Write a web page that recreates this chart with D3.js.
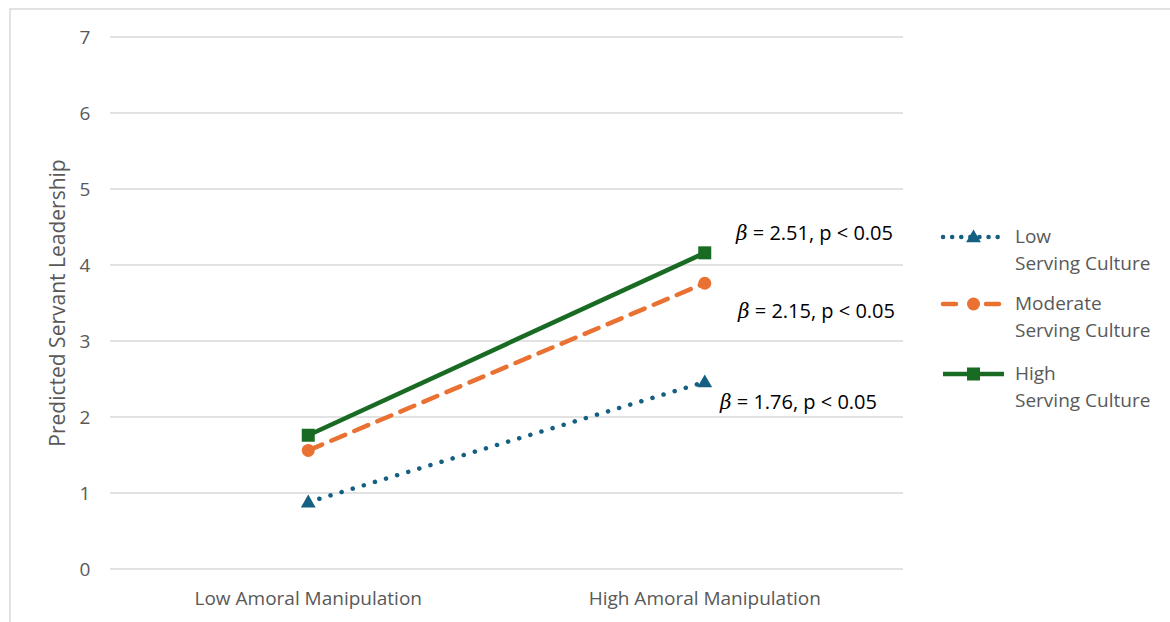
<!DOCTYPE html>
<html><head><meta charset="utf-8">
<script src="https://cdn.jsdelivr.net/npm/d3@7"></script>
<style>
html,body{margin:0;padding:0;background:#fff;}
svg text{font-family:"Open Sans","Noto Sans",sans-serif;}
</style></head>
<body>
<svg id="chart" width="1170" height="622"></svg>
<script>
const categories = ["Low Amoral Manipulation", "High Amoral Manipulation"];
const seriesNames = ["Low\nServing Culture", "Moderate\nServing Culture", "High\nServing Culture"];
const lowCulture = [0.88, 2.46];
const moderateCulture = [1.56, 3.76];
const highCulture = [1.76, 4.16];
const yTicks = [0, 1, 2, 3, 4, 5, 6, 7];
const betaLabels = ["2.51", "2.15", "1.76"];

const svg = d3.select("#chart");
const W = 1170, H = 622;
const plot = {left: 110, right: 903, top: 37, bottom: 569};

// outer frame (left + top visible)
svg.append("path").attr("d", `M10,${H} L10,9 L${W},9`).attr("fill","none").attr("stroke","#d9d9d9").attr("stroke-width",1.5);

const x = d3.scaleBand().domain(categories).range([plot.left, plot.right]);
const y = d3.scaleLinear().domain([0, 7]).range([plot.bottom, plot.top]);

// gridlines
svg.append("g").selectAll("line").data(yTicks).join("line")
  .attr("x1", plot.left).attr("x2", plot.right)
  .attr("y1", d => y(d)).attr("y2", d => y(d))
  .attr("stroke", "#d9d9d9").attr("stroke-width", 1.5);

// y axis labels
const yAxis = d3.axisLeft(y).tickValues(yTicks).tickFormat(d3.format("d")).tickSize(0).tickPadding(0);
const yg = svg.append("g").attr("transform", `translate(92,0)`).call(yAxis);
yg.select(".domain").remove();
yg.selectAll("text").attr("font-size", 19).attr("fill", "#595959").attr("text-anchor","middle").attr("x",-7).attr("dy","0.35em");

// x axis labels
const xAxis = d3.axisBottom(x).tickSize(0).tickPadding(0);
const xg = svg.append("g").attr("transform", `translate(0,${plot.bottom})`).call(xAxis);
xg.select(".domain").remove();
xg.selectAll("text").attr("font-size", 19).attr("fill", "#595959").attr("y", 36).attr("dy", "0");

// y axis title
svg.append("text").attr("transform", `translate(65,${(plot.top+plot.bottom)/2}) rotate(-90)`)
  .attr("text-anchor","middle").attr("font-size",21).attr("fill","#595959")
  .text("Predicted Servant Leadership");

const series = [
  {name: seriesNames[0], values: lowCulture, color: "#156082", dash: "0.1,11.5", width: 4.5, cap: "round", marker: "triangle"},
  {name: seriesNames[1], values: moderateCulture, color: "#E97132", dash: "15,10", width: 4.5, cap: "round", marker: "circle"},
  {name: seriesNames[2], values: highCulture, color: "#196B24", dash: null, width: 4.5, cap: "butt", marker: "square"}
];

const cx = c => x(c) + x.bandwidth()/2;
const line = d3.line().x(d => cx(d.c)).y(d => y(d.v));

function drawMarker(g, type, px, py, color) {
  if (type === "triangle") {
    g.append("path").attr("d", d3.symbol(d3.symbolTriangle, 95)()).attr("transform", `translate(${px},${py+1})`).attr("fill", color);
  } else if (type === "circle") {
    g.append("circle").attr("cx", px).attr("cy", py).attr("r", 6.5).attr("fill", color);
  } else {
    g.append("rect").attr("x", px-6.5).attr("y", py-6.5).attr("width", 13).attr("height", 13).attr("fill", color);
  }
}

series.forEach(s => {
  const pts = s.values.map((v,i) => ({c: categories[i], v}));
  const p = svg.append("path").datum(pts).attr("d", line)
    .attr("fill","none").attr("stroke", s.color).attr("stroke-width", s.width).attr("stroke-linecap", s.cap);
  if (s.dash) p.attr("stroke-dasharray", s.dash);
  const g = svg.append("g");
  pts.forEach(d => drawMarker(g, s.marker, cx(d.c), y(d.v), s.color));
});

// annotations
const annPos = [[736, 240], [738, 318], [720, 409]];
betaLabels.forEach((b, i) => {
  const t = svg.append("text").attr("x", annPos[i][0]).attr("y", annPos[i][1]).attr("font-size", 20).attr("fill", "#000");
  t.append("tspan").attr("font-style","italic").attr("font-family","'DejaVu Serif',serif").text("β");
  t.append("tspan").text(" = " + b + ", p < 0.05");
});

// legend
const legY = [237, 304, 374];
series.forEach((s, i) => {
  const g = svg.append("g");
  const ly = legY[i];
  const l = g.append("line").attr("x1", 943).attr("x2", 1004).attr("y1", ly).attr("y2", ly)
    .attr("stroke", s.color).attr("stroke-width", s.width).attr("stroke-linecap", s.cap);
  if (s.marker === "triangle") l.attr("stroke-dasharray", "0.1,9");
  else if (s.marker === "circle") l.attr("stroke-dasharray", "13,30");
  drawMarker(g, s.marker, 973.5, ly, s.color);
  const lines = s.name.split("\n");
  const t = g.append("text").attr("x", 1015).attr("y", ly + 6).attr("font-size", 19).attr("fill", "#595959");
  lines.forEach((ln, k) => t.append("tspan").attr("x", 1015).attr("dy", k === 0 ? 0 : 27).text(ln));
});
</script>
</body></html>
